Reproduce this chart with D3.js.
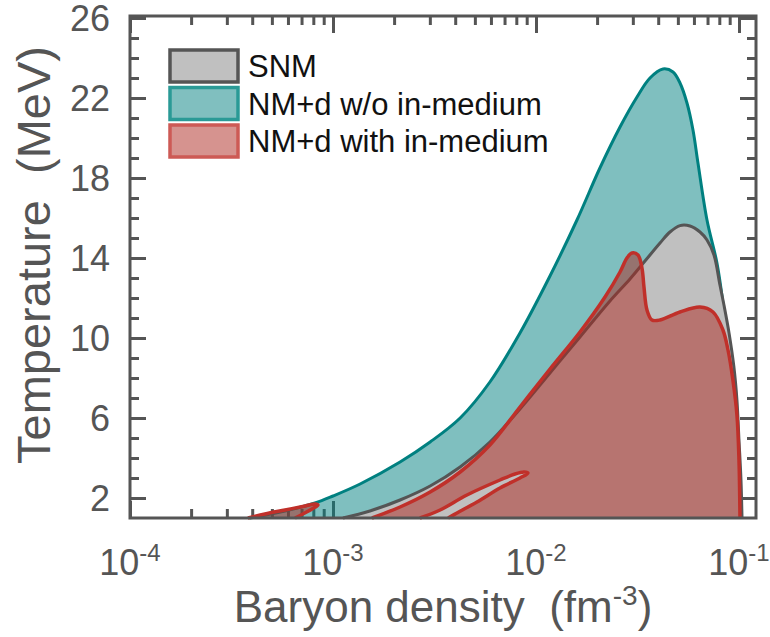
<!DOCTYPE html>
<html>
<head>
<meta charset="utf-8">
<script src="https://cdn.jsdelivr.net/npm/d3@7"></script>
<style>
  body { margin: 0; background: #fff; }
  text { font-family: "Liberation Sans", Arial, sans-serif; }
</style>
</head>
<body>
<svg id="chart" width="770" height="637"></svg>
<script>
// boundaries of the regions: [baryon density (fm^-3), temperature (MeV)]
var snm = [
  [1.12e-3,1.0],[1.52e-3,1.35],[2.14e-3,1.9],[3.01e-3,2.6],[4.23e-3,3.55],[5.93e-3,4.8],
  [8.34e-3,6.45],[0.01172,8.25],[0.01647,10.05],[0.02314,11.85],[0.02904,12.95],[0.03443,13.85],
  [0.04083,14.75],[0.04571,15.3],[0.05122,15.62],[0.05736,15.6],[0.06427,15.3],[0.06957,14.9],
  [0.0753,14.15],[0.08059,12.65],[0.08433,11.65],[0.08933,10.25],[0.09441,8.55],[0.09772,6.9],
  [0.1,4.9],[0.1023,2.9],[0.1035,1.0]
];
var nmdFree = [
  [3.9e-4,1.0],[5.8e-4,1.35],[8.15e-4,1.75],[1.0e-3,2.1],[1.36e-3,2.7],[2.14e-3,3.8],
  [3.01e-3,4.8],[4.23e-3,6.0],[5.93e-3,7.8],[8.34e-3,10.25],[0.01172,13.1],[0.01592,15.9],
  [0.02065,18.5],[0.02594,20.55],[0.03145,22.05],[0.03644,23.0],[0.04222,23.45],[0.04732,23.3],
  [0.05122,22.75],[0.05544,21.75],[0.05935,20.4],[0.06281,18.75],[0.06957,15.9],[0.0779,13.75],
  [0.08337,11.75],[0.08831,9.65],[0.09333,6.4],[0.09661,3.4],[0.09886,1.0]
];
var nmdMed = [
  [1.556e-3,1.0],[2.14e-3,1.55],[3.01e-3,2.3],[4.23e-3,3.3],[5.93e-3,4.65],[8.34e-3,6.55],
  [0.01172,8.45],[0.01647,10.3],[0.02188,12.05],[0.02594,13.3],[0.02806,14.0],[0.02972,14.25],
  [0.03181,14.15],[0.03327,13.5],[0.03404,12.55],[0.03522,11.4],[0.03727,10.9],[0.04083,10.9],
  [0.05122,11.3],[0.06427,11.55],[0.07447,11.3],[0.08337,10.4],[0.08831,9.4],[0.09333,7.9],
  [0.09772,6.15],[0.1,3.9],[0.10114,1.0]
];
var nmdMedHole = [
  [2.68e-3,1.0],[3.37e-3,1.4],[4.57e-3,2.15],[6.65e-3,2.9],[7.88e-3,3.2],[8.73e-3,3.3],
  [9.13e-3,3.25],[8.34e-3,3.0],[6.65e-3,2.5],[5.12e-3,1.8],[4.08e-3,1.25],[3.69e-3,1.0]
];
var nmdMedLoop = [
  [3.81e-4,1.0],[4.62e-4,1.2],[5.8e-4,1.4],[7.28e-4,1.6],[8.15e-4,1.7],[8.43e-4,1.65],
  [7.88e-4,1.45],[7.11e-4,1.2],[6.5e-4,1.0]
];

var xMajor = [1e-4, 1e-3, 1e-2, 1e-1];
var yMajor = [2, 6, 10, 14, 18, 22, 26];
var legendNames = ["SNM", "NM+d w/o in-medium", "NM+d with in-medium"];

var axisCol = "#555";
var svg = d3.select("#chart");
var x = d3.scaleLog().domain([1e-4, 0.1213]).range([130, 756]);
var y = d3.scaleLinear().domain([1, 26.1]).range([518, 16]);

var xMinor = [];
[1e-4, 1e-3, 1e-2].forEach(function(d) { for (var k = 2; k < 10; k++) xMinor.push(d * k); });
var yMinor = d3.range(2, 27).filter(function(d) { return yMajor.indexOf(d) < 0; });

// ticks (all pointing inward)
function ticks(gen, tx, ty, vals, size) {
  svg.append("g").attr("transform", "translate(" + tx + "," + ty + ")")
    .call(gen.tickValues(vals).tickSize(size).tickFormat(""))
    .call(function(g) { g.select(".domain").remove(); })
    .selectAll("line").attr("stroke", axisCol).attr("stroke-width", 3);
}
ticks(d3.axisBottom(x), 0, 518, xMajor, -17);
ticks(d3.axisBottom(x), 0, 518, xMinor, -9);
ticks(d3.axisTop(x), 0, 16, xMajor, -17);
ticks(d3.axisTop(x), 0, 16, xMinor, -9);
ticks(d3.axisLeft(y), 130, 0, yMajor, -16);
ticks(d3.axisLeft(y), 130, 0, yMinor, -9);
ticks(d3.axisRight(y), 756, 0, yMajor, -16);
ticks(d3.axisRight(y), 756, 0, yMinor, -9);

var line = d3.line()
  .x(function(d) { return x(d[0]); })
  .y(function(d) { return y(d[1]); })
  .curve(d3.curveCatmullRom.alpha(0.5));

var redFill = "rgb(174,40,32)";
var redLine = "#c0302a";

// teal region
svg.append("path").attr("d", line(nmdFree) + "Z")
  .attr("fill", "#008080").attr("fill-opacity", 0.5);
svg.append("path").attr("d", line(nmdFree))
  .attr("fill", "none").attr("stroke", "#008080").attr("stroke-width", 3);

// SNM region
svg.append("path").attr("d", line(snm) + "Z").attr("fill", "#c0c0c0");
svg.append("path").attr("d", line(snm))
  .attr("fill", "none").attr("stroke", axisCol).attr("stroke-width", 3);

// in-medium region with its hole
svg.append("path")
  .attr("d", line(nmdMed) + "Z" + line(nmdMedHole) + "Z" + line(nmdMedLoop) + "Z")
  .attr("fill-rule", "evenodd")
  .attr("fill", redFill).attr("fill-opacity", 0.5);
[nmdMed, nmdMedHole, nmdMedLoop].forEach(function(p) {
  svg.append("path").attr("d", line(p))
    .attr("fill", "none").attr("stroke", redLine).attr("stroke-width", 3.5)
    .attr("stroke-linejoin", "round");
});

// frame
svg.append("rect").attr("x", 130).attr("y", 16).attr("width", 626).attr("height", 502)
  .attr("fill", "none").attr("stroke", axisCol).attr("stroke-width", 3);

// tick labels
xMajor.forEach(function(d) {
  var t = svg.append("text").attr("x", x(d)).attr("y", 575)
    .attr("text-anchor", "middle").style("font-size", "36px").attr("fill", axisCol);
  t.append("tspan").text("10");
  t.append("tspan").attr("dy", -14).style("font-size", "24px").text(Math.round(Math.log10(d)));
});
yMajor.forEach(function(d) {
  svg.append("text").attr("x", 110).attr("y", y(d)).attr("dy", "0.36em")
    .attr("text-anchor", "end").style("font-size", "36px").attr("fill", axisCol).text(d);
});

// axis titles
var xt = svg.append("text").attr("x", 443).attr("y", 622).attr("text-anchor", "middle")
  .style("font-size", "44px").style("white-space", "pre").attr("fill", axisCol);
xt.append("tspan").text("Baryon density  (fm");
xt.append("tspan").attr("dy", -17).style("font-size", "28px").text("-3");
xt.append("tspan").attr("dy", 17).text(")");

svg.append("text").attr("transform", "translate(50,255) rotate(-90)")
  .attr("text-anchor", "middle").style("font-size", "47px").style("white-space", "pre")
  .attr("fill", axisCol).text("Temperature  (MeV)");

// legend
var legFill = ["#c0c0c0", "#80bfbf", "rgb(214,147,143)"];
var legStroke = [axisCol, "#2a9a96", "#cd5a55"];
legendNames.forEach(function(name, i) {
  var yy = 50 + i * 37.5;
  svg.append("rect").attr("x", 170).attr("y", yy).attr("width", 68).attr("height", 32)
    .attr("fill", legFill[i]).attr("stroke", legStroke[i]).attr("stroke-width", 3.5);
  svg.append("text").attr("x", 248).attr("y", yy + 16).attr("dy", "0.36em")
    .style("font-size", "31px").attr("fill", "#111").text(name);
});
</script>
</body>
</html>
